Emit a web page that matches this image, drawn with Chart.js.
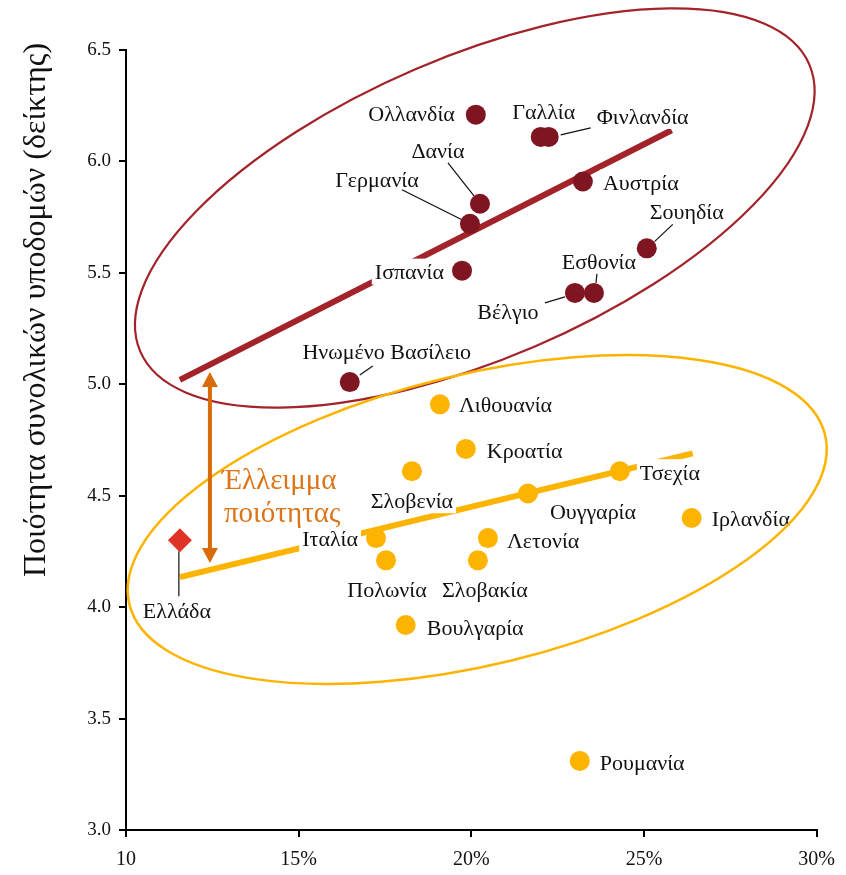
<!DOCTYPE html>
<html>
<head>
<meta charset="utf-8">
<script src="https://cdn.jsdelivr.net/npm/chart.js@4.4.1/dist/chart.umd.min.js"></script>
<style>
  html, body { margin: 0; padding: 0; background: #fff; }
</style>
</head>
<body>
<canvas id="myChart" width="846" height="875"></canvas>
<script>
// countries with high infrastructure quality (dark red group)
const highNames = ['Ολλανδία', 'Γαλλία', 'Φινλανδία', 'Δανία', 'Γερμανία', 'Αυστρία', 'Σουηδία', 'Ισπανία', 'Εσθονία', 'Βέλγιο', 'Ηνωμένο Βασίλειο'];
const highX = [20.13, 22.01, 22.24, 20.25, 19.96, 23.23, 25.08, 19.73, 23.55, 23.00, 16.48];
const highY = [6.21, 6.11, 6.11, 5.81, 5.72, 5.91, 5.61, 5.51, 5.41, 5.41, 5.01];

// countries with lower quality (yellow group)
const lowNames = ['Λιθουανία', 'Κροατία', 'Σλοβενία', 'Τσεχία', 'Ουγγαρία', 'Ιρλανδία', 'Λετονία', 'Σλοβακία', 'Ιταλία', 'Πολωνία', 'Βουλγαρία', 'Ρουμανία'];
const lowX = [19.09, 19.84, 18.28, 24.30, 21.64, 26.38, 20.48, 20.19, 17.24, 17.53, 18.10, 23.14];
const lowY = [4.91, 4.71, 4.61, 4.61, 4.51, 4.40, 4.31, 4.21, 4.31, 4.21, 3.92, 3.31];

const greeceName = ['Ελλάδα'];
const greeceX = [11.56];
const greeceY = [4.30];

// trend lines (start / end)
const highTrendX = [11.56, 25.80];
const highTrendY = [5.02, 6.14];
const lowTrendX = [11.56, 26.41];
const lowTrendY = [4.135, 4.69];

// gap arrow between the two groups
const gapX = [12.43];
const gapY = [5.055, 4.198];
const gapText = ['Έλλειμμα', 'ποιότητας'];

const xTicks = [10, 15, 20, 25, 30];
const xTickLabels = ['10', '15%', '20%', '25%', '30%'];
const yTicks = [3.0, 3.5, 4.0, 4.5, 5.0, 5.5, 6.0, 6.5];
const yTickLabels = ['3.0', '3.5', '4.0', '4.5', '5.0', '5.5', '6.0', '6.5'];
const yTitle = 'Ποιότητα συνολικών υποδομών (δείκτης)';

const serif = "'Liberation Serif', 'DejaVu Serif', serif";
const darkRed = '#7E1520';
const lineRed = '#A3232A';
const yellow = '#FDB400';
const orange = '#D96B08';

// label placement: [align, dx, dy, leader line (x1,y1,x2,y2)] in pixels from the point
const labelPlace = {
  'Ολλανδία': ['right', -21, 0],
  'Γαλλία': ['center', 3, -25],
  'Φινλανδία': ['left', 48, -20, [12, -2, 42, -9]],
  'Δανία': ['center', -42, -53, [-32, -41, -6, -8]],
  'Γερμανία': ['center', -93, -44, [-68, -34, -8, -4]],
  'Αυστρία': ['left', 20, 2],
  'Σουηδία': ['center', 40, -36, [8, -7, 26, -24]],
  'Ισπανία': ['right', -18, 2],
  'Εσθονία': ['center', 5, -31, [3, -19, 2, -10]],
  'Βέλγιο': ['center', -67, 19, [-30, 10, -10, 4]],
  'Ηνωμένο Βασίλειο': ['center', 37, -30, [10, -7, 23, -16]],
  'Λιθουανία': ['left', 19, 1],
  'Κροατία': ['left', 21, 2],
  'Σλοβενία': ['center', 0, 30],
  'Τσεχία': ['left', 20, 2],
  'Ουγγαρία': ['center', 65, 19],
  'Ιρλανδία': ['left', 20, 1],
  'Λετονία': ['left', 19, 3],
  'Σλοβακία': ['center', 7, 30],
  'Ιταλία': ['right', -18, 1],
  'Πολωνία': ['center', 1, 30],
  'Βουλγαρία': ['left', 21, 3],
  'Ρουμανία': ['left', 20, 2],
  'Ελλάδα': ['center', -3, 71, [-1, 11, -1, 56]]
};

// group rings: centre in data units, radii in pixels, rotation in degrees
const rings = [
  { cx: 20.10, cy: 5.791, rx: 364, ry: 151, rot: -23.2, color: lineRed, width: 2.2 },
  { cx: 20.17, cy: 4.393, rx: 358, ry: 145, rot: -13.7, color: yellow, width: 2.5 }
];

function toPoints(xs, ys) {
  return xs.map((x, i) => ({ x: x, y: ys[i] }));
}

const overlay = {
  id: 'overlay',
  afterDatasetDraw(chart, args) {
    if (args.index !== 1) return;
    const ctx = chart.ctx;
    const xs = chart.scales.x, ys = chart.scales.y;
    const groups = [[highNames, highX, highY], [lowNames, lowX, lowY], [greeceName, greeceX, greeceY]];
    const items = [];
    ctx.save();
    ctx.font = '22px ' + serif;
    ctx.textBaseline = 'middle';
    groups.forEach(g => {
      g[0].forEach((name, i) => {
        const p = labelPlace[name];
        const px = xs.getPixelForValue(g[1][i]);
        const py = ys.getPixelForValue(g[2][i]);
        const w = ctx.measureText(name).width;
        let left = px + p[1];
        if (p[0] === 'right') left -= w;
        if (p[0] === 'center') left -= w / 2;
        items.push({ name, px, py, left, w, ty: py + p[2], leader: p[3] });
      });
    });
    // white boxes behind the labels hide the trend lines
    ctx.fillStyle = '#fff';
    items.forEach(it => ctx.fillRect(it.left - 3, it.ty - 14, it.w + 6, 26));
    ctx.strokeStyle = '#111';
    ctx.lineWidth = 1.2;
    items.forEach(it => {
      if (!it.leader) return;
      const l = it.leader;
      ctx.beginPath();
      ctx.moveTo(it.px + l[0], it.py + l[1]);
      ctx.lineTo(it.px + l[2], it.py + l[3]);
      ctx.stroke();
    });
    ctx.fillStyle = '#111';
    ctx.textAlign = 'left';
    items.forEach(it => ctx.fillText(it.name, it.left, it.ty + 1));

    // rings around the groups
    rings.forEach(r => {
      ctx.beginPath();
      ctx.ellipse(xs.getPixelForValue(r.cx), ys.getPixelForValue(r.cy), r.rx, r.ry, r.rot * Math.PI / 180, 0, Math.PI * 2);
      ctx.strokeStyle = r.color;
      ctx.lineWidth = r.width;
      ctx.stroke();
    });

    // quality gap arrow
    const ax = xs.getPixelForValue(gapX[0]);
    const ay1 = ys.getPixelForValue(gapY[0]);
    const ay2 = ys.getPixelForValue(gapY[1]);
    const head = 15, hw = 8;
    ctx.strokeStyle = orange;
    ctx.fillStyle = orange;
    ctx.lineWidth = 4;
    ctx.beginPath();
    ctx.moveTo(ax, ay1 + head - 1);
    ctx.lineTo(ax, ay2 - head + 1);
    ctx.stroke();
    ctx.beginPath();
    ctx.moveTo(ax, ay1); ctx.lineTo(ax - hw, ay1 + head); ctx.lineTo(ax + hw, ay1 + head); ctx.closePath();
    ctx.fill();
    ctx.beginPath();
    ctx.moveTo(ax, ay2); ctx.lineTo(ax - hw, ay2 - head); ctx.lineTo(ax + hw, ay2 - head); ctx.closePath();
    ctx.fill();
    ctx.font = '29px ' + serif;
    ctx.fillStyle = '#DD7418';
    ctx.textAlign = 'left';
    const mid = (ay1 + ay2) / 2;
    ctx.fillText(gapText[0], ax + 12, mid + 14);
    ctx.fillText(gapText[1], ax + 14, mid + 47);
    ctx.restore();
  },
  afterDraw(chart) {
    const ctx = chart.ctx;
    ctx.save();
    ctx.translate(37, 310);
    ctx.rotate(-Math.PI / 2);
    ctx.font = '32px ' + serif;
    ctx.fillStyle = '#111';
    ctx.textAlign = 'center';
    ctx.textBaseline = 'middle';
    ctx.fillText(yTitle, 0, 0);
    ctx.restore();
  }
};

let myChart = new Chart(document.getElementById('myChart'), {
  type: 'scatter',
  data: {
    datasets: [
      {
        type: 'line',
        data: toPoints(highTrendX, highTrendY),
        borderColor: lineRed,
        borderWidth: 6,
        pointRadius: 0,
        order: 4
      },
      {
        type: 'line',
        data: toPoints(lowTrendX, lowTrendY),
        borderColor: yellow,
        borderWidth: 6,
        pointRadius: 0,
        order: 3
      },
      {
        data: toPoints(highX, highY),
        backgroundColor: darkRed,
        borderWidth: 0,
        pointRadius: 10,
        order: 1
      },
      {
        data: toPoints(lowX, lowY),
        backgroundColor: yellow,
        borderWidth: 0,
        pointRadius: 10,
        order: 1
      },
      {
        data: toPoints(greeceX, greeceY),
        backgroundColor: '#DF3425',
        borderWidth: 0,
        pointStyle: 'rectRot',
        pointRadius: 12,
        order: 1
      }
    ]
  },
  options: {
    responsive: false,
    animation: false,
    layout: { padding: { top: 50, right: 29, left: 0, bottom: 0 } },
    plugins: {
      legend: { display: false },
      tooltip: { enabled: false }
    },
    scales: {
      x: {
        type: 'linear',
        min: 10,
        max: 30,
        afterBuildTicks: (s) => { s.ticks = xTicks.map(v => ({ value: v })); },
        ticks: {
          callback: (v) => xTickLabels[xTicks.indexOf(v)],
          font: { family: serif, size: 20 },
          color: '#111',
          padding: 11,
          maxRotation: 0,
          autoSkip: false
        },
        grid: { drawOnChartArea: false, tickLength: 7, color: '#000', lineWidth: 2 },
        border: { color: '#000', width: 2 },
        afterFit: (s) => { s.height = 45; }
      },
      y: {
        type: 'linear',
        min: 3,
        max: 6.5,
        afterBuildTicks: (s) => { s.ticks = yTicks.map(v => ({ value: v })); },
        ticks: {
          callback: (v) => yTickLabels[yTicks.indexOf(v)],
          font: { family: serif, size: 19 },
          color: '#111',
          padding: 8,
          autoSkip: false
        },
        grid: { drawOnChartArea: false, tickLength: 7, color: '#000', lineWidth: 2 },
        border: { color: '#000', width: 2 },
        afterFit: (s) => { s.width = 126; }
      }
    }
  },
  plugins: [overlay]
});
</script>
</body>
</html>
